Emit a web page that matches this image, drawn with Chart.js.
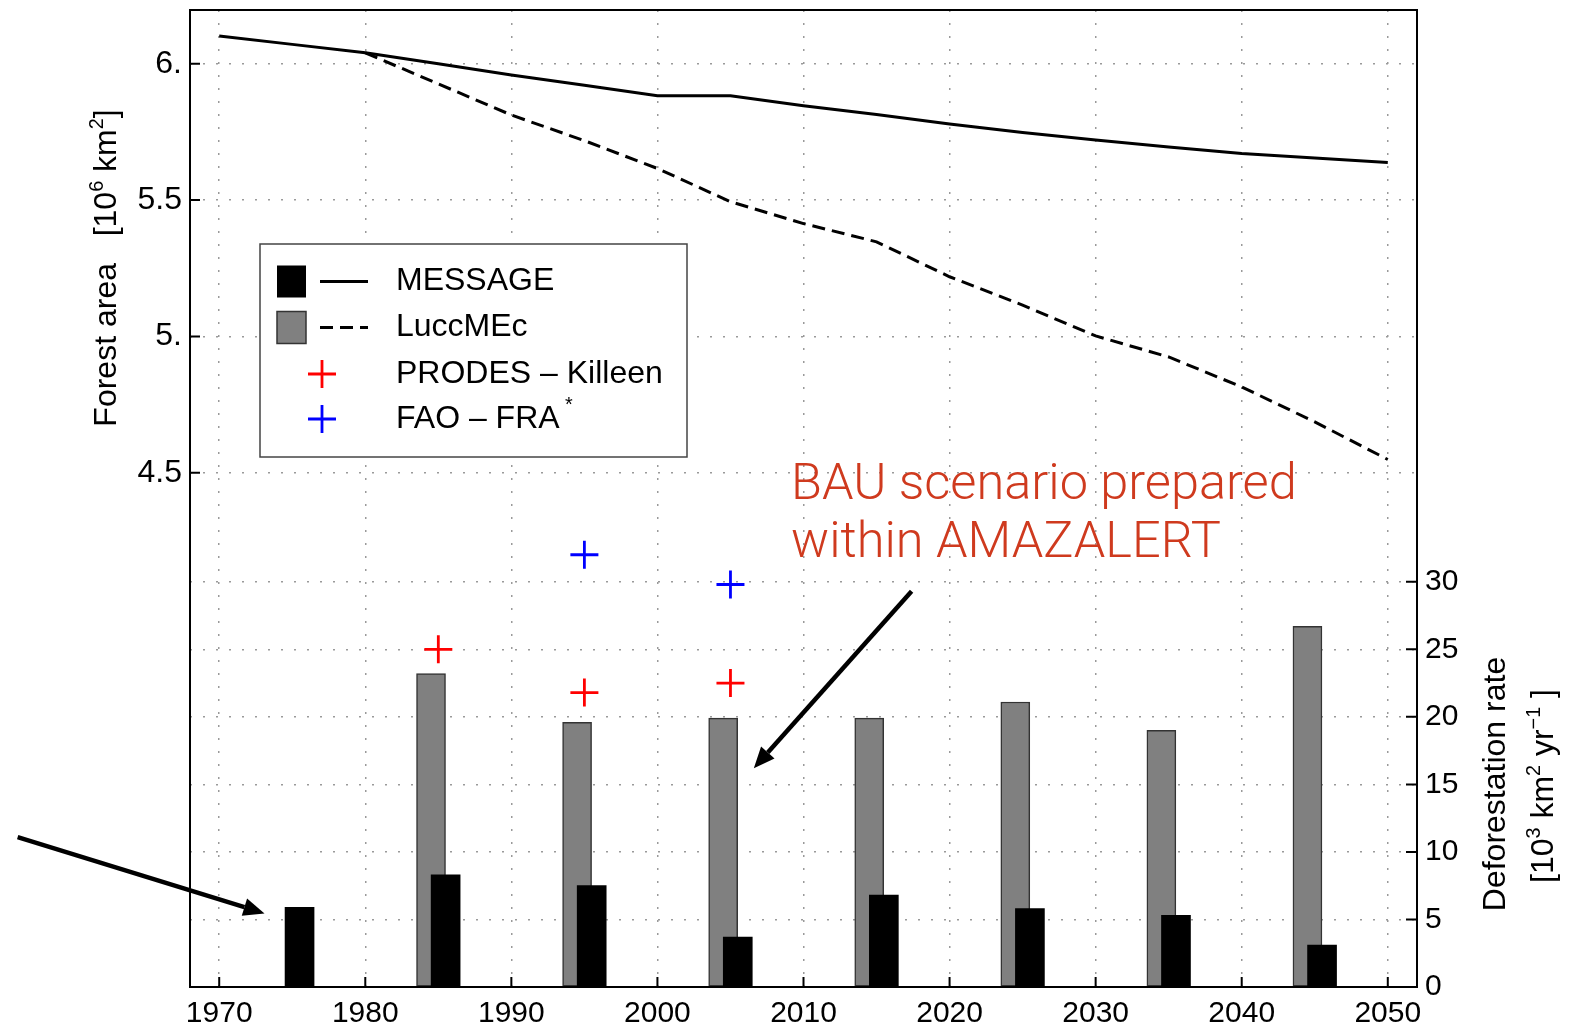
<!DOCTYPE html>
<html>
<head>
<meta charset="utf-8">
<title>Forest area and deforestation rate</title>
<script src="https://cdn.jsdelivr.net/npm/chart.js@4.4.1/dist/chart.umd.min.js"></script>
<style>
  html, body { margin: 0; padding: 0; background: #fff; }
  #wrap { width: 1575px; height: 1027px; position: relative; }
</style>
</head>
<body>
<div id="wrap"><canvas id="chart"></canvas></div>
<script>
////////////
//// Data

// forest area, 10^6 km2 (left axis)
let LINE_YEARS   = [1970, 1975, 1980, 1985, 1990, 1995, 2000, 2005, 2010, 2015, 2020, 2025, 2030, 2035, 2040, 2045, 2050];
let MESSAGE_AREA = [6.102, 6.071, 6.040, 6.000, 5.959, 5.921, 5.883, 5.883, 5.846, 5.814, 5.779, 5.748, 5.720, 5.695, 5.671, 5.654, 5.638];
let LUCC_AREA    = [null, null, 6.040, 5.926, 5.812, 5.718, 5.616, 5.494, 5.414, 5.347, 5.219, 5.115, 5.002, 4.925, 4.815, 4.687, 4.549];

// deforestation rate, 10^3 km2/yr (right axis), one bar pair per decade
let BAR_YEARS    = [1975, 1985, 1995, 2005, 2015, 2025, 2035, 2045];
let MESSAGE_RATE = [5.9, 8.3, 7.5, 3.7, 6.8, 5.8, 5.3, 3.1];
let LUCC_RATE    = [null, 23.2, 19.6, 19.9, 19.9, 21.1, 19.0, 26.7];

// observations
let PRODES_YEARS = [1985, 1995, 2005];
let PRODES_RATE  = [25.0, 21.8, 22.5];
let FAO_YEARS    = [1995, 2005];
let FAO_RATE     = [32.0, 29.8];

// ticks
let X_TICKS     = [1970, 1980, 1990, 2000, 2010, 2020, 2030, 2040, 2050];
let AREA_TICKS  = [4.5, 5, 5.5, 6];
let AREA_LABELS = ['4.5', '5.', '5.5', '6.'];
let RATE_TICKS  = [0, 5, 10, 15, 20, 25, 30];

////////////
//// Styling / layout

const FONT = "'Liberation Sans', Arial, Helvetica, sans-serif";
const ANNOT_FONT = "Roboto, 'Liberation Sans', Arial, sans-serif";
const RED_TEXT = '#cf3a1e';
const GRID = { color: '#9a9a9a', lineWidth: 1.5, drawTicks: false };
const GRID_BORDER = { display: false, dash: [2, 11] };

// annotation (x in years, y on the deforestation axis)
const ANNOT_X = 2009.15;
const ANNOT_LINES = [['BAU scenario prepared', 36.1], ['within AMAZALERT', 31.85]];
const ARROWS = [
	[1956.2, 11.1, 1973.1, 5.45],
	[2017.4, 29.3, 2006.6, 16.2]
];

Chart.defaults.font.family = FONT;
Chart.defaults.color = '#000';

function pairs(xs, ys, shift) {
	let out = [];
	for (let i = 0; i < xs.length; ++i) {
		if (ys[i] == null) continue;
		out.push({ x: xs[i] + (shift || 0), y: ys[i] });
	}
	return out;
}

////////////
//// Drawing helpers

function setFont(ctx, size, family) {
	ctx.font = size + 'px ' + (family || FONT);
}

// parts: [text, isSuperscript]
function richWidth(ctx, parts, size) {
	let w = 0;
	parts.forEach(p => {
		setFont(ctx, p[1] ? size * 0.62 : size);
		w += ctx.measureText(p[0]).width;
	});
	return w;
}

function drawRich(ctx, parts, x, y, size) {
	let cx = x;
	parts.forEach(p => {
		let s = p[1] ? size * 0.62 : size;
		setFont(ctx, s);
		ctx.fillText(p[0], cx, p[1] ? y - size * 0.42 : y);
		cx += ctx.measureText(p[0]).width;
	});
}

// rotated (reading upwards) centred label, baseline at bx
function drawVertical(ctx, parts, bx, cy, size) {
	ctx.save();
	ctx.translate(bx, cy);
	ctx.rotate(-Math.PI / 2);
	ctx.textBaseline = 'alphabetic';
	ctx.textAlign = 'left';
	let w = richWidth(ctx, parts, size);
	drawRich(ctx, parts, -w / 2, 0, size);
	ctx.restore();
}

function drawArrow(ctx, x0, y0, x1, y1) {
	let ang = Math.atan2(y1 - y0, x1 - x0);
	let headLen = 21, headW = 9;
	let bx = x1 - headLen * Math.cos(ang), by = y1 - headLen * Math.sin(ang);
	ctx.lineWidth = 4.5;
	ctx.beginPath();
	ctx.moveTo(x0, y0);
	ctx.lineTo(bx, by);
	ctx.stroke();
	ctx.beginPath();
	ctx.moveTo(x1, y1);
	ctx.lineTo(bx - headW * Math.sin(ang), by + headW * Math.cos(ang));
	ctx.lineTo(bx + headW * Math.sin(ang), by - headW * Math.cos(ang));
	ctx.closePath();
	ctx.fill();
}

function drawCross(ctx, x, y, r, color) {
	ctx.strokeStyle = color;
	ctx.lineWidth = 2.8;
	ctx.beginPath();
	ctx.moveTo(x - r, y); ctx.lineTo(x + r, y);
	ctx.moveTo(x, y - r); ctx.lineTo(x, y + r);
	ctx.stroke();
}

////////////
//// Plugins

// frame with inward tick marks (matplotlib look)
let framePlugin = {
	id: 'frame',
	afterDatasetsDraw(chart) {
		let ctx = chart.ctx, a = chart.chartArea, s = chart.scales;
		ctx.save();
		ctx.strokeStyle = '#000';
		ctx.lineWidth = 2;
		ctx.strokeRect(a.left, a.top, a.right - a.left, a.bottom - a.top);
		ctx.beginPath();
		X_TICKS.forEach(v => {
			let px = s.x.getPixelForValue(v);
			ctx.moveTo(px, a.bottom); ctx.lineTo(px, a.bottom - 10);
		});
		AREA_TICKS.forEach(v => {
			let py = s.y.getPixelForValue(v);
			ctx.moveTo(a.left, py); ctx.lineTo(a.left + 10, py);
		});
		RATE_TICKS.forEach(v => {
			let py = s.y1.getPixelForValue(v);
			ctx.moveTo(a.right, py); ctx.lineTo(a.right - 11, py);
		});
		ctx.stroke();
		ctx.restore();
	}
};

// axis titles, legend box and the red annotation
let extrasPlugin = {
	id: 'extras',
	afterDraw(chart) {
		let ctx = chart.ctx, a = chart.chartArea, s = chart.scales;
		ctx.save();
		ctx.fillStyle = '#000';

		// axis titles
		drawVertical(ctx, [['Forest area   [10', 0], ['6', 1], [' km', 0], ['2', 1], [']', 0]], 116, 268, 32);
		drawVertical(ctx, [['Deforestation rate', 0]], 1505, 784, 32);
		drawVertical(ctx, [['[10', 0], ['3', 1], [' km', 0], ['2', 1], [' yr', 0], ['\u22121', 1], [' ]', 0]], 1553, 786, 32);

		// legend
		let bx = a.left + 70, by = a.top + 234;
		ctx.fillStyle = '#fff';
		ctx.fillRect(bx, by, 427, 213);
		ctx.strokeStyle = '#444';
		ctx.lineWidth = 1.5;
		ctx.strokeRect(bx, by, 427, 213);
		let rows = [by + 37.5, by + 83.5, by + 130, by + 175];

		ctx.fillStyle = '#000';
		ctx.fillRect(bx + 17, rows[0] - 16, 29, 32);
		ctx.fillStyle = '#808080';
		ctx.fillRect(bx + 17, rows[1] - 16, 29, 32);
		ctx.strokeStyle = '#333';
		ctx.lineWidth = 1.5;
		ctx.strokeRect(bx + 17, rows[1] - 16, 29, 32);

		ctx.strokeStyle = '#000';
		ctx.lineWidth = 3;
		ctx.beginPath(); ctx.moveTo(bx + 60, rows[0]); ctx.lineTo(bx + 108, rows[0]); ctx.stroke();
		ctx.setLineDash([13, 7]);
		ctx.beginPath(); ctx.moveTo(bx + 60, rows[1]); ctx.lineTo(bx + 108, rows[1]); ctx.stroke();
		ctx.setLineDash([]);
		drawCross(ctx, bx + 62, rows[2], 14, '#ff0000');
		drawCross(ctx, bx + 62, rows[3], 14, '#0000ff');

		ctx.fillStyle = '#000';
		ctx.textAlign = 'left';
		ctx.textBaseline = 'middle';
		setFont(ctx, 32);
		ctx.fillText('MESSAGE', bx + 136, rows[0]);
		ctx.fillText('LuccMEc', bx + 136, rows[1]);
		ctx.fillText('PRODES \u2013 Killeen', bx + 136, rows[2]);
		drawRich(ctx, [['FAO \u2013 FRA', 0], [' *', 1]], bx + 136, rows[3], 32);

		// annotation text
		ctx.fillStyle = RED_TEXT;
		ctx.textBaseline = 'alphabetic';
		ctx.font = '300 50.5px ' + ANNOT_FONT;
		ANNOT_LINES.forEach(l => {
			ctx.fillText(l[0], s.x.getPixelForValue(ANNOT_X), s.y1.getPixelForValue(l[1]));
		});

		// arrows
		ctx.fillStyle = '#000';
		ctx.strokeStyle = '#000';
		ARROWS.forEach(r => {
			drawArrow(ctx,
				s.x.getPixelForValue(r[0]), s.y1.getPixelForValue(r[1]),
				s.x.getPixelForValue(r[2]), s.y1.getPixelForValue(r[3]));
		});
		ctx.restore();
	}
};

////////////
//// Chart

let datasets = [
	{
		type: 'line', label: 'MESSAGE', yAxisID: 'y',
		data: pairs(LINE_YEARS, MESSAGE_AREA),
		borderColor: '#000', borderWidth: 3, pointRadius: 0, tension: 0
	},
	{
		type: 'line', label: 'LuccMEc', yAxisID: 'y',
		data: pairs(LINE_YEARS, LUCC_AREA),
		borderColor: '#000', borderWidth: 3, borderDash: [13, 7], pointRadius: 0, tension: 0
	},
	{
		type: 'scatter', label: 'PRODES - Killeen', yAxisID: 'y1',
		data: pairs(PRODES_YEARS, PRODES_RATE),
		pointStyle: 'cross', pointRadius: 14, pointBorderWidth: 2.8,
		borderColor: '#ff0000', backgroundColor: '#ff0000'
	},
	{
		type: 'scatter', label: 'FAO - FRA', yAxisID: 'y1',
		data: pairs(FAO_YEARS, FAO_RATE),
		pointStyle: 'cross', pointRadius: 14, pointBorderWidth: 2.8,
		borderColor: '#0000ff', backgroundColor: '#0000ff'
	},
	{
		type: 'bar', label: 'MESSAGE rate', yAxisID: 'y1',
		data: pairs(BAR_YEARS, MESSAGE_RATE, 0.5),
		backgroundColor: '#000', borderWidth: 0, barThickness: 29, grouped: false
	},
	{
		type: 'bar', label: 'LuccMEc rate', yAxisID: 'y1',
		data: pairs(BAR_YEARS, LUCC_RATE, -0.5),
		backgroundColor: '#808080', borderColor: '#333', borderWidth: 1.5,
		borderSkipped: false, barThickness: 29, grouped: false
	}
];

// keep the plot box where the figure has it (no label overhang padding)
function noPadV(sc) { sc.paddingTop = 0; sc.paddingBottom = 0; }
function noPadH(sc) { sc.paddingLeft = 0; sc.paddingRight = 0; }

let ctx = document.getElementById('chart').getContext('2d');
let chart = new Chart(ctx, {
	type: 'bar',
	data: { datasets: datasets },
	plugins: [framePlugin, extrasPlugin],
	options: {
		responsive: true,
		maintainAspectRatio: false,
		animation: false,
		layout: { autoPadding: false, padding: { top: 10, left: 0, right: 0, bottom: 0 } },
		plugins: { legend: { display: false }, tooltip: { enabled: false } },
		scales: {
			x: {
				type: 'linear', min: 1968, max: 2052, offset: false,
				afterBuildTicks: sc => { sc.ticks = X_TICKS.map(v => ({ value: v })); },
				afterFit: sc => { sc.height = 40; noPadH(sc); },
				grid: Object.assign({ offset: false }, GRID),
				border: GRID_BORDER,
				ticks: {
					callback: v => String(v), autoSkip: false, maxRotation: 0,
					font: { size: 30 }, color: '#000', padding: 9
				}
			},
			y: {
				position: 'left', min: 2.615, max: 6.197,
				afterBuildTicks: sc => { sc.ticks = AREA_TICKS.map(v => ({ value: v })); },
				afterFit: sc => { sc.width = 190; noPadV(sc); },
				grid: GRID,
				border: GRID_BORDER,
				ticks: {
					callback: v => AREA_LABELS[AREA_TICKS.indexOf(v)],
					font: { size: 32 }, color: '#000', padding: 8
				}
			},
			y1: {
				position: 'right', min: 0, max: 72.33,
				afterBuildTicks: sc => { sc.ticks = RATE_TICKS.map(v => ({ value: v })); },
				afterFit: sc => { sc.width = 158; noPadV(sc); },
				grid: GRID,
				border: GRID_BORDER,
				ticks: {
					callback: v => String(v),
					font: { size: 30 }, color: '#000', padding: 8
				}
			}
		}
	}
});
</script>
</body>
</html>
